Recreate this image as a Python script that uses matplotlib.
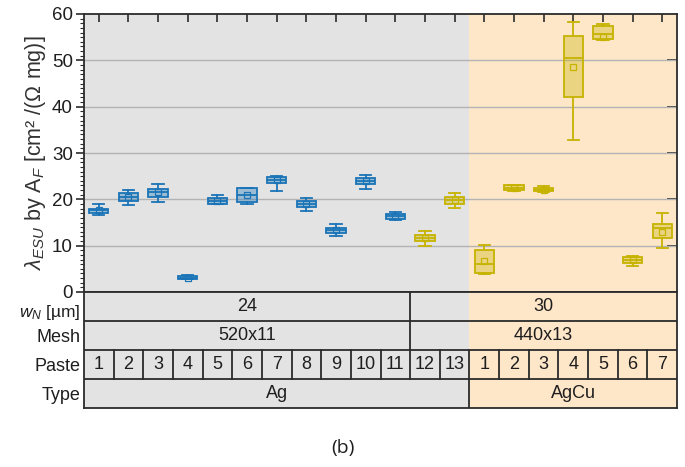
import matplotlib
matplotlib.use("Agg")
import matplotlib.pyplot as plt
from matplotlib.ticker import MultipleLocator

plt.rcParams['font.family'] = ['Liberation Sans', 'DejaVu Sans']
plt.rcParams['mathtext.fontset'] = 'custom'
plt.rcParams['mathtext.rm'] = 'Liberation Sans'
plt.rcParams['mathtext.it'] = 'Liberation Sans:italic'

# ---------------- data ----------------
paste_labels = ["1", "2", "3", "4", "5", "6", "7", "8", "9", "10", "11", "12", "13",
                "1", "2", "3", "4", "5", "6", "7"]
paste_type = ["Ag"] * 13 + ["AgCu"] * 7
wn_groups = ["24", "30"]
wn_spans = [11, 9]
mesh_groups = ["520x11", "440x13"]
mesh_spans = [11, 9]
type_groups = ["Ag", "AgCu"]
type_spans = [13, 7]

whis_hi = [19.0, 22.0, 23.4, 3.6, 21.0, 22.5, 25.1, 20.3, 14.6, 25.2, 17.3, 13.1, 21.3,
           10.2, 23.2, 22.8, 58.2, 57.9, 7.7, 17.1]
q3 = [18.0, 21.4, 22.3, 3.5, 20.2, 22.5, 24.9, 19.6, 13.8, 24.7, 16.9, 12.4, 20.5,
      9.15, 23.0, 22.5, 55.3, 57.5, 7.5, 14.7]
med = [17.6, 20.5, 21.5, 3.1, 19.6, 21.0, 24.1, 19.0, 13.3, 24.0, 16.4, 11.7, 19.8,
       6.1, 22.5, 22.1, 50.6, 55.6, 6.9, 13.8]
mean = [17.6, 20.6, 21.5, 3.1, 19.6, 20.9, 24.1, 19.0, 13.3, 24.0, 16.4, 11.7, 19.8,
        6.7, 22.5, 22.1, 48.6, 55.0, 6.9, 13.0]
q1 = [17.1, 19.7, 20.5, 2.7, 19.1, 19.5, 23.6, 18.4, 12.7, 23.3, 15.8, 11.1, 19.1,
      4.0, 22.1, 21.8, 42.1, 54.5, 6.3, 11.7]
whis_lo = [16.7, 18.8, 19.5, 2.7, 18.9, 18.9, 21.9, 17.4, 12.0, 22.3, 15.5, 10.0, 18.2,
           3.8, 21.8, 21.6, 32.9, 54.4, 5.6, 9.4]
# color group: 0 = blue (Ag pastes 1-11), 1 = olive (others)
color_group = [0] * 11 + [1] * 9

# ---------------- style ----------------
BLUE = "#1a74b7"
OLIVE = "#c6b300"
GRAY_BG = "#e3e3e3"
PEACH_BG = "#fee6c9"
LINE = "#2b2b2b"
TXT = "#1e1e1e"

fig = plt.figure(figsize=(6.85, 4.67), dpi=100)
W, H = 685, 467
x0, x1 = 84, 677
ytop, ybot = 14, 292
tbot = 408
ax = fig.add_axes([x0 / W, 1 - ybot / H, (x1 - x0) / W, (ybot - ytop) / H])
tax = fig.add_axes([x0 / W, 1 - tbot / H, (x1 - x0) / W, (tbot - ybot) / H])

n = len(paste_labels)
n_ag = type_spans[0]
positions = list(range(n))

for a in (ax, tax):
    a.set_xlim(-0.5, n - 0.5)
    a.axvspan(-0.5, n_ag - 0.5, color=GRAY_BG, lw=0, zorder=0)
    a.axvspan(n_ag - 0.5, n - 0.5, color=PEACH_BG, lw=0, zorder=0)

ax.set_ylim(0, 60)
for yv in [10, 20, 30, 40, 50]:
    ax.axhline(yv, color="#b3b3b3", lw=1.0, zorder=1)

stats = []
for i in range(n):
    stats.append(dict(med=med[i], q1=q1[i], q3=q3[i], whislo=whis_lo[i],
                      whishi=whis_hi[i], mean=mean[i], fliers=[]))

for grp, col in [(0, BLUE), (1, OLIVE)]:
    idx = [i for i in range(n) if color_group[i] == grp]
    ax.bxp([stats[i] for i in idx], positions=[positions[i] for i in idx],
           widths=0.65, patch_artist=True, showmeans=True, showfliers=False,
           boxprops=dict(facecolor=matplotlib.colors.to_rgba(col, 0.35),
                         edgecolor=col, linewidth=1.3),
           medianprops=dict(color=col, linewidth=1.3),
           whiskerprops=dict(color=col, linewidth=1.3),
           capprops=dict(color=col, linewidth=1.3),
           capwidths=0.38,
           meanprops=dict(marker="s", markerfacecolor="none",
                          markeredgecolor=col, markersize=4, markeredgewidth=0.9),
           manage_ticks=False, zorder=3)

# axes ticks
ax.yaxis.set_major_locator(MultipleLocator(10))
ax.yaxis.set_minor_locator(MultipleLocator(1))
ax.tick_params(axis="y", which="major", direction="out", length=6, width=1.2,
               labelsize=13.5, colors=LINE, labelcolor=TXT, pad=2)
ax.tick_params(axis="y", which="minor", direction="out", length=3, width=0.8, colors=LINE)
ax.tick_params(axis="x", which="both", bottom=False, labelbottom=False)
ax.set_xticks([])
for s in ax.spines.values():
    s.set_color(LINE)
    s.set_linewidth(1.3)

sec_top = ax.secondary_xaxis("top")
sec_top.set_xticks(positions)
sec_top.tick_params(direction="in", length=6, width=1.2, labeltop=False, colors=LINE)
sec_top.spines["top"].set_visible(False)
sec_right = ax.secondary_yaxis("right")
sec_right.set_yticks([10, 20, 30, 40, 50])
sec_right.tick_params(direction="in", length=7, width=1.2, labelright=False, colors=LINE)
sec_right.spines["right"].set_visible(False)

ax.set_ylabel(r"$\lambda_{ESU}$ by $\mathrm{A}_F$ [cm² /(Ω mg)]", fontsize=15.5,
              color="#333333", labelpad=3)

# ---------------- table ----------------
tax.set_ylim(0, 4)
tax.set_xticks([])
tax.set_yticks([])
for s in tax.spines.values():
    s.set_color(LINE)
    s.set_linewidth(1.3)
for yv in [1, 2, 3]:
    tax.axhline(yv, color=LINE, lw=1.3, zorder=2)

fs = 13
# wN row (y 3-4) and Mesh row (y 2-3)
for row_y, groups, spans in [(3, wn_groups, wn_spans), (2, mesh_groups, mesh_spans)]:
    start = 0
    for g, s in zip(groups, spans):
        tax.text(start + s / 2 - 0.5, row_y + 0.5, g, ha="center", va="center",
                 fontsize=fs, color=TXT)
        if start > 0:
            tax.plot([start - 0.5, start - 0.5], [row_y, row_y + 1], color=LINE, lw=1.3)
        start += s
# Paste row (y 1-2)
for i, lab in enumerate(paste_labels):
    tax.text(i, 1.5, lab, ha="center", va="center", fontsize=fs, color=TXT)
    if i > 0:
        tax.plot([i - 0.5, i - 0.5], [1, 2], color=LINE, lw=1.3)
# Type row (y 0-1)
start = 0
for g, s in zip(type_groups, type_spans):
    tax.text(start + s / 2 - 0.5, 0.5, g, ha="center", va="center", fontsize=fs,
             color=TXT)
    if start > 0:
        tax.plot([start - 0.5, start - 0.5], [0, 1], color=LINE, lw=1.3)
    start += s

row_labels = [r"$w_N$ [µm]", "Mesh", "Paste", "Type"]
row_y = [3.3, 2.42, 1.42, 0.42]
row_fs = [12.5, fs, fs, fs]
for lab, yy, f in zip(row_labels, row_y, row_fs):
    tax.text(-0.62, yy, lab, ha="right", va="center", fontsize=f,
             color=TXT, transform=tax.transData, clip_on=False)

fig.text(343 / W, 1 - 448 / H, "(b)", ha="center", va="center", fontsize=14,
         family=["Open Sans", "DejaVu Sans"], color=TXT)

fig.savefig("out.png", dpi=100)
